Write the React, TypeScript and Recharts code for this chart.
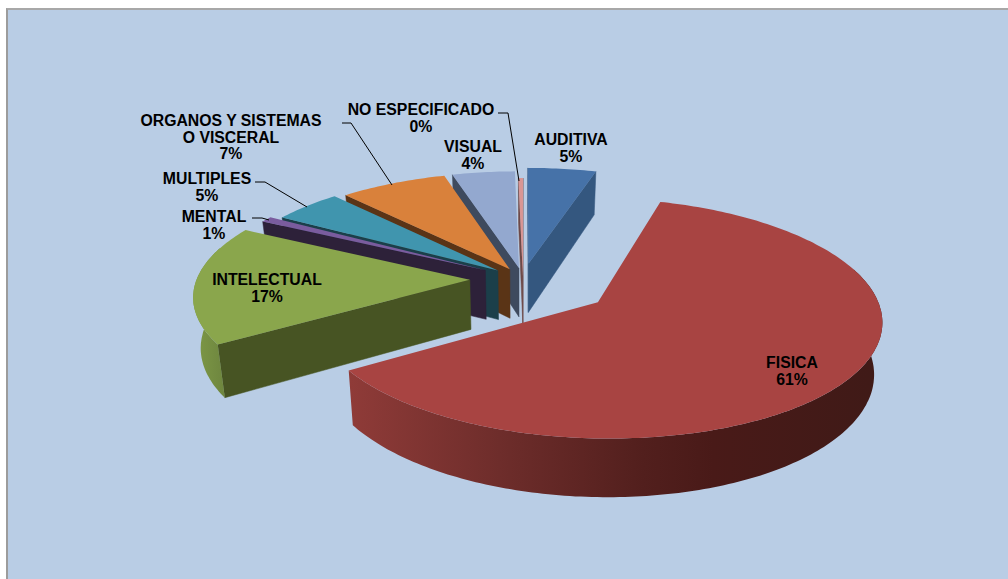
import { PieChart, Pie } from 'recharts'

const names = ['AUDITIVA', 'FISICA', 'INTELECTUAL', 'MENTAL', 'MULTIPLES', 'ORGANOS Y SISTEMAS|O VISCERAL', 'VISUAL', 'NO ESPECIFICADO']
const values = [4.6, 61.4, 16.8, 0.8, 4.7, 7.2, 4.2, 0.3]

// the pie paints in data order and each slice must cover the wall of the one after it,
// so the table runs backwards and the pie runs counter clockwise
const tableData = names.map((name, i) => ({ name, value: values[i] })).reverse()

// slice looks
const topColors = ['#4672A8', '#A84442', '#8AA64C', '#7A5C9E', '#4095AE', '#D9813B', '#93A8CF', '#D99694']
const wallColors = ['#34577F', '#8F3B38', '#475423', '#2D2139', '#1B3F4A', '#5A3416', '#3E4A5E', '#6F4A49']
const explode = [0.14, 0.335, 0.195, 0.16, 0.12, 0.1, 0.1, 0.02]

// where the labels sit: centre x, first line y
const labelSpots = [[571, 145], [792, 368], [267, 285], [214, 222], [207, 184], [231, 126], [473, 152], [421, 115]]
const leaders: (number[][] | null)[] = [
  null,
  null,
  null,
  [[252, 218], [262, 218], [269, 220]],
  [[255, 182], [265, 182], [307, 207]],
  [[342, 123], [351, 123], [392, 185]],
  null,
  [[498, 113], [508, 113], [519, 181]],
]

const CX = 523
const CY = 279
const RADIUS = 273
const SQUASH = 112 / 273
const PERSP = 0.13
const DEPTH = 49.5
const LOW_SCALE = 0.977

type Pt = [number, number]

// tilted view of the pie: wx, wy in radius units, y going away from the viewer
function project(wx: number, wy: number, drop: boolean, cx: number, cy: number, r: number): Pt {
  const s = 1 / (1 + PERSP * wy)
  const x = r * wx * s
  return [cx + (drop ? x * LOW_SCALE : x), cy - r * SQUASH * wy * s + (drop ? DEPTH * s : 0)]
}

const toPath = (pts: Pt[]) => 'M' + pts.map((p) => p[0].toFixed(1) + ',' + p[1].toFixed(1)).join('L') + 'Z'

function Slice3D(props: any) {
  const { name, cx, cy, outerRadius, startAngle, endAngle, midAngle } = props
  const i = names.indexOf(name)
  const rad = Math.PI / 180
  // recharts angles run counter clockwise from 3 o'clock, a0..a1 here run clockwise from 12
  const a0 = 90 - Math.max(startAngle, endAngle)
  const a1 = 90 - Math.min(startAngle, endAngle)
  const mid = 90 - midAngle
  const dx = explode[i] * Math.sin(mid * rad)
  const dy = explode[i] * Math.cos(mid * rad)

  const n = Math.max(2, Math.ceil(a1 - a0))
  const angles: number[] = []
  for (let k = 0; k <= n; k++) angles.push(a0 + ((a1 - a0) * k) / n)
  const pt = (a: number, drop: boolean) =>
    project(dx + Math.sin(a * rad), dy + Math.cos(a * rad), drop, cx, cy, outerRadius)
  const apexTop = project(dx, dy, false, cx, cy, outerRadius)
  const apexLow = project(dx, dy, true, cx, cy, outerRadius)
  const startTop = pt(a0, false)
  const endTop = pt(a1, false)

  // outer wall: runs a bit past the sides, the top face painted after it hides the extra
  const rim = angles.filter((a) => Math.cos(a * rad) < 0.3)
  const rimPath = rim.length > 1
    ? toPath([...rim.map((a) => pt(a, false)), ...[...rim].reverse().map((a) => pt(a, true))])
    : null
  const gradId = 'rim' + i

  return (
    <g>
      <defs>
        {i === 1 && (
          <linearGradient id={gradId} gradientUnits="userSpaceOnUse" x1="350" y1="0" x2="884" y2="0">
            <stop offset="0%" stopColor="#8F3B38" />
            <stop offset="28%" stopColor="#6E2D2B" />
            <stop offset="55%" stopColor="#521F1D" />
            <stop offset="68%" stopColor="#491A18" />
            <stop offset="100%" stopColor="#3F1A17" />
          </linearGradient>
        )}
        {i === 2 && (
          <linearGradient id={gradId} gradientUnits="userSpaceOnUse" x1="192" y1="0" x2="222" y2="0">
            <stop offset="0%" stopColor="#7F9A47" />
            <stop offset="100%" stopColor="#6F873F" />
          </linearGradient>
        )}
      </defs>
      {apexTop[0] > startTop[0] && (
        <path d={toPath([apexTop, startTop, pt(a0, true), apexLow])} fill={wallColors[i]} stroke={wallColors[i]} strokeWidth={0.5} />
      )}
      {endTop[0] > apexTop[0] && (
        <path d={toPath([endTop, apexTop, apexLow, pt(a1, true)])} fill={wallColors[i]} stroke={wallColors[i]} strokeWidth={0.5} />
      )}
      {rimPath && <path d={rimPath} fill={`url(#${gradId})`} />}
      <path d={toPath([apexTop, ...angles.map((a) => pt(a, false))])} fill={topColors[i]} />
    </g>
  )
}

function SliceLabel(props: any) {
  const i = names.indexOf(props.name)
  const [x, y] = labelSpots[i]
  const lines = [...names[i].split('|'), Math.round(props.percent * 100) + '%']
  const leader = leaders[i]
  return (
    <g>
      {leader && <polyline points={leader.map((p) => p.join(',')).join(' ')} fill="none" stroke="#000" strokeWidth={1} />}
      <text textAnchor="middle" fontFamily="'Liberation Sans', Arial, sans-serif" fontWeight="bold" fontSize={15.8} fill="#000">
        {lines.map((line, k) => (
          <tspan key={k} x={x} y={y + k * 16.5}>{line}</tspan>
        ))}
      </text>
    </g>
  )
}

export default function App() {
  return (
    <div style={{ position: 'absolute', left: 0, top: 0, width: 1008, height: 579, background: '#fff', overflow: 'hidden' }}>
      <div style={{ position: 'absolute', left: 6, top: 8, width: 1002, height: 571, boxSizing: 'border-box', background: '#B9CDE5', borderLeft: '2px solid #9C9C9C', borderTop: '2px solid #A8A8A8' }} />
      <div style={{ position: 'absolute', left: 0, top: 0 }}>
        <PieChart width={1008} height={579} margin={{ top: 0, right: 0, bottom: 0, left: 0 }}>
          <Pie
            data={tableData}
            dataKey="value"
            nameKey="name"
            cx={CX}
            cy={CY}
            innerRadius={0}
            outerRadius={RADIUS}
            startAngle={90}
            endAngle={450}
            stroke="none"
            isAnimationActive={false}
            shape={Slice3D}
            label={SliceLabel}
            labelLine={false}
          />
        </PieChart>
      </div>
    </div>
  )
}
